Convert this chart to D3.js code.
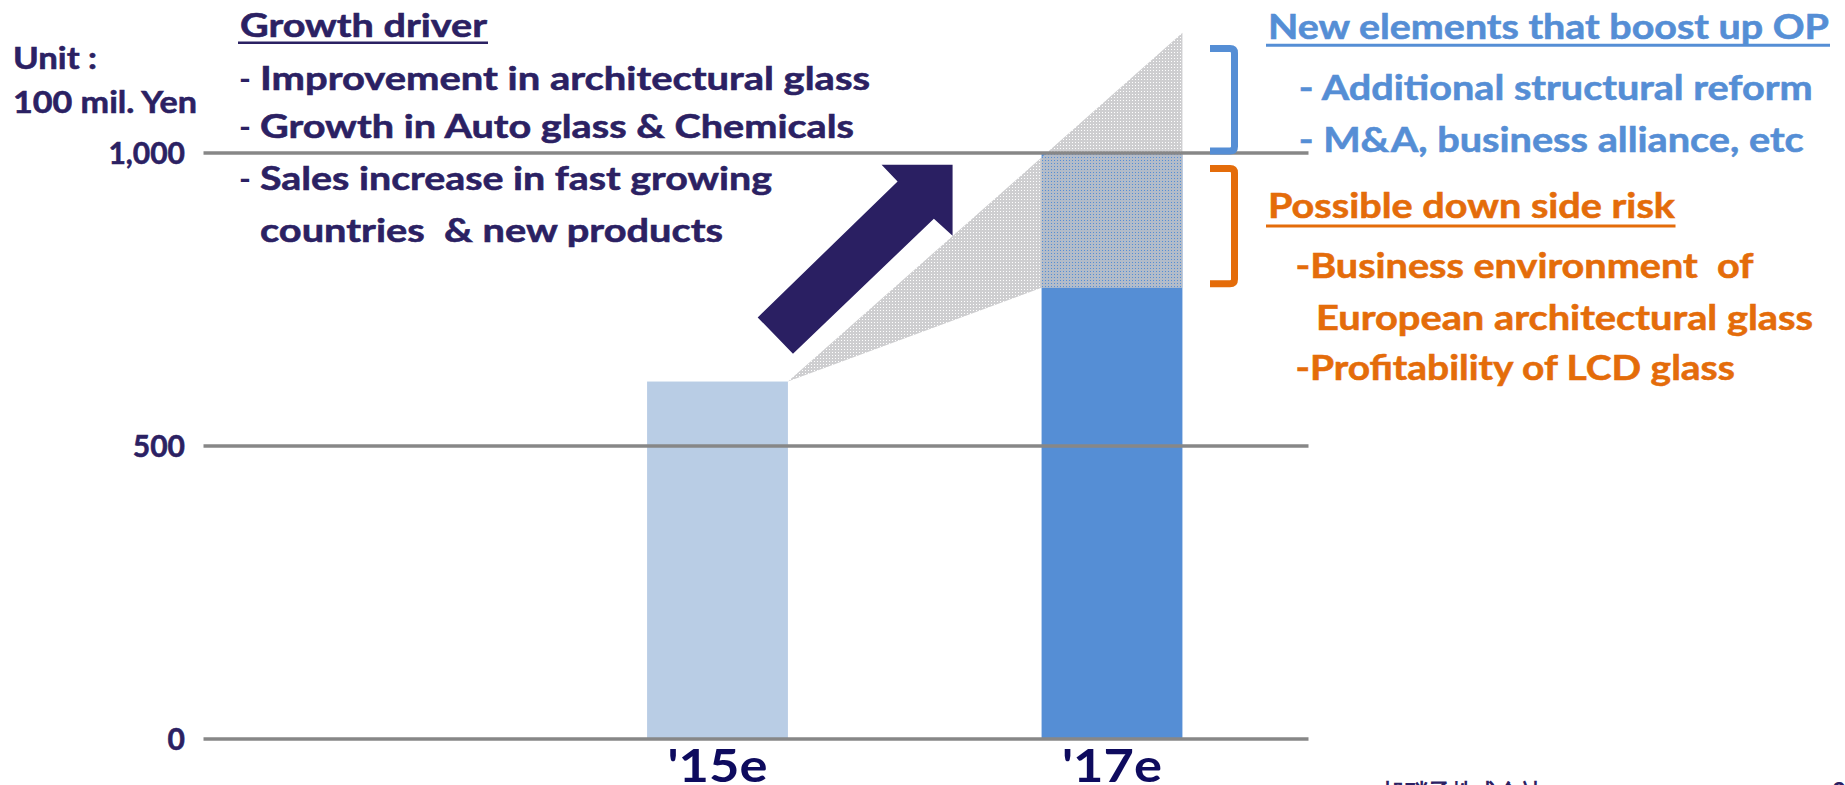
<!DOCTYPE html>
<html>
<head>
<meta charset="utf-8">
<script src="https://cdn.jsdelivr.net/npm/d3@7"></script>
<style>
  html, body { margin: 0; padding: 0; background: #ffffff; }
  svg { display: block; }
  text { font-family: Lato, "Open Sans", "Noto Sans", sans-serif; font-weight: 700; white-space: pre; }
  text.heavy { stroke-width: 0.55px; paint-order: stroke; }
</style>
</head>
<body>
<svg id="chart" width="1845" height="785"></svg>
<script>
// ---------------- DATA ----------------
const categories = ["'15e", "'17e"];
const barValues = [610, 770];          // solid bars (100 mil. Yen)
const upsideTop17 = 1000;              // top of patterned upper part of '17e
const upsideApex17 = 1205;             // apex of the "boost" wedge
const yTickValues = [0, 500, 1000];
const yTickLabels = ["0", "500", "1,000"];
const unitLabels = ["Unit :", "100 mil. Yen"];

const driverTitle = "Growth driver";
const driverLines = [
  {dash: true,  text: "Improvement in architectural glass"},
  {dash: true,  text: "Growth in Auto glass & Chemicals"},
  {dash: true,  text: "Sales increase in fast growing"},
  {dash: false, text: "countries  & new products"}
];
const boostTitle = "New elements that boost up OP";
const boostLines = ["- Additional structural reform", "- M&A, business alliance, etc"];
const riskTitle = "Possible down side risk";
const riskLines = ["-Business environment  of", "European architectural glass", "-Profitability of LCD glass"];
const footerText = "旭硝子株式会社";
const pageNumber = "2";

// ---------------- STYLE ----------------
const NAVY = "#2b2163";
const NAVY_DARK = "#0e0b5e";
const BLUE = "#558ed5";
const LIGHT_BLUE = "#b9cde5";
const ORANGE = "#e46c0a";
const GRID = "#878787";

const svg = d3.select("#chart");
svg.append("rect").attr("width", 1845).attr("height", 785).attr("fill", "#ffffff");

// scales
const y = d3.scaleLinear().domain([0, 1000]).range([739, 153]);
const x = d3.scaleBand().domain(categories).range([520.25, 1309.25])
  .paddingInner(0.643).paddingOuter(0.3215);
const gridX0 = 203.5, gridX1 = 1308.5;

// dotted pattern for the wedge (gray with small holes)
const defs = svg.append("defs");
const pat = defs.append("pattern").attr("id", "dots")
  .attr("width", 3).attr("height", 3).attr("patternUnits", "userSpaceOnUse");
pat.append("path")
  .attr("d", "M0,0H3V3H0Z M1,1V2H2V1Z")
  .attr("fill-rule", "evenodd")
  .attr("fill", "rgb(196,196,199)").attr("fill-opacity", 0.84);

// bars
const barColors = [LIGHT_BLUE, BLUE];
svg.append("g").selectAll("rect.bar").data(categories).join("rect")
  .attr("class", "bar")
  .attr("x", d => x(d))
  .attr("width", x.bandwidth())
  .attr("y", (d, i) => y(barValues[i]))
  .attr("height", (d, i) => y(0) - y(barValues[i]))
  .attr("fill", (d, i) => barColors[i]);

// '17e upper part (to 1000) underneath the pattern
svg.append("rect")
  .attr("x", x(categories[1])).attr("width", x.bandwidth())
  .attr("y", y(upsideTop17)).attr("height", y(barValues[1]) - y(upsideTop17))
  .attr("fill", BLUE);

// wedge polygon
const x15r = x(categories[0]) + x.bandwidth();
const x17l = x(categories[1]);
const x17r = x(categories[1]) + x.bandwidth();
const wedge = [
  [x15r, y(barValues[0])],
  [x17r, y(upsideApex17)],
  [x17r, y(barValues[1])],
  [x17l, y(barValues[1])]
];
svg.append("path").attr("d", d3.line()(wedge) + "Z").attr("fill", "url(#dots)");

// gridlines
svg.append("g").selectAll("line").data(yTickValues).join("line")
  .attr("x1", gridX0).attr("x2", gridX1)
  .attr("y1", d => y(d)).attr("y2", d => y(d))
  .attr("stroke", GRID).attr("stroke-width", 3.5);

// y tick labels
svg.append("g").selectAll("text").data(yTickValues).join("text")
  .attr("class", "heavy").attr("stroke", NAVY)
  .attr("x", 185).attr("y", d => y(d) + 10.5)
  .attr("text-anchor", "end")
  .attr("font-size", 30).attr("fill", NAVY)
  .text((d, i) => yTickLabels[i]);

// unit
svg.append("text").attr("class", "heavy").attr("stroke", NAVY)
  .attr("x", 13).attr("y", 69).attr("font-size", 29.5).attr("fill", NAVY)
  .attr("textLength", 84).attr("lengthAdjust", "spacingAndGlyphs").text(unitLabels[0]);
svg.append("text").attr("class", "heavy").attr("stroke", NAVY)
  .attr("x", 13).attr("y", 113).attr("font-size", 29.5).attr("fill", NAVY)
  .attr("textLength", 184).attr("lengthAdjust", "spacingAndGlyphs").text(unitLabels[1]);

// category labels
svg.append("g").selectAll("text").data(categories).join("text")
  .attr("x", d => x(d) + x.bandwidth() / 2)
  .attr("y", 781.5)
  .attr("text-anchor", "middle")
  .attr("font-family", "'DejaVu Sans', Verdana, sans-serif")
  .attr("font-size", 46).attr("fill", NAVY_DARK)
  .attr("textLength", 100).attr("lengthAdjust", "spacingAndGlyphs")
  .text(d => d);

// arrow (decoration) — tip anchored near '17e bar, around 980
const tip = [x17l - 89, y(980)];
const arrowOffsets = [[0, 0], [0, 71], [-18.7, 54], [-159.6, 189], [-194.9, 152.7], [-55, 16.7], [-71, 0]];
svg.append("path")
  .attr("d", d3.line()(arrowOffsets.map(o => [tip[0] + o[0], tip[1] + o[1]])) + "Z")
  .attr("fill", "#2a1f62");

// left notes
const leftFs = 32;
svg.append("text").attr("class", "heavy").attr("stroke", NAVY)
  .attr("x", 240).attr("y", 37.3).attr("font-size", leftFs).attr("fill", NAVY)
  .attr("textLength", 247).attr("lengthAdjust", "spacingAndGlyphs").text(driverTitle);
svg.append("line").attr("x1", 238).attr("x2", 488).attr("y1", 42.8).attr("y2", 42.8)
  .attr("stroke", NAVY).attr("stroke-width", 2.6);
const driverBase = [89.5, 138, 190, 241.7];
const driverWidths = [610, 594, 512, 463];
const dl = svg.append("g");
driverLines.forEach((l, i) => {
  if (l.dash) {
    dl.append("text").attr("x", 239).attr("y", driverBase[i]).attr("font-size", leftFs)
      .attr("font-weight", 400).attr("fill", NAVY).text("-");
  }
  dl.append("text").attr("class", "heavy").attr("stroke", NAVY)
    .attr("x", 260).attr("y", driverBase[i]).attr("font-size", leftFs)
    .attr("fill", NAVY).attr("textLength", driverWidths[i]).attr("lengthAdjust", "spacingAndGlyphs")
    .text(l.text);
});

// brackets
function bracket(yTop, yBot, color) {
  svg.append("path")
    .attr("d", `M1210,${yTop} H1230 Q1234.5,${yTop} 1234.5,${yTop + 4.5} V${yBot - 4.5} Q1234.5,${yBot} 1230,${yBot} H1210`)
    .attr("fill", "none").attr("stroke", color).attr("stroke-width", 7);
}
bracket(y(upsideTop17) - 104.5, y(upsideTop17) - 2, BLUE);
bracket(y(upsideTop17) + 15.5, y(barValues[1]) - 4, ORANGE);

// right notes
const rightFs = 33.5;
svg.append("text").attr("class", "heavy").attr("stroke", BLUE)
  .attr("x", 1268).attr("y", 39.3).attr("font-size", rightFs).attr("fill", BLUE)
  .attr("textLength", 561).attr("lengthAdjust", "spacingAndGlyphs").text(boostTitle);
svg.append("line").attr("x1", 1266).attr("x2", 1830).attr("y1", 45.3).attr("y2", 45.3)
  .attr("stroke", BLUE).attr("stroke-width", 3);
const boostBase = [100, 151.7];
const boostWidths = [514, 505];
boostLines.forEach((t, i) => {
  svg.append("text").attr("class", "heavy").attr("stroke", BLUE)
    .attr("x", 1298.7).attr("y", boostBase[i]).attr("font-size", rightFs)
    .attr("fill", BLUE)
    .attr("textLength", boostWidths[i]).attr("lengthAdjust", "spacingAndGlyphs").text(t);
});
svg.append("text").attr("class", "heavy").attr("stroke", ORANGE)
  .attr("x", 1268).attr("y", 218.3).attr("font-size", rightFs).attr("fill", ORANGE)
  .attr("textLength", 407).attr("lengthAdjust", "spacingAndGlyphs").text(riskTitle);
svg.append("line").attr("x1", 1266).attr("x2", 1675.5).attr("y1", 226).attr("y2", 226)
  .attr("stroke", ORANGE).attr("stroke-width", 3);
const riskBase = [278.3, 330, 380];
const riskX = [1295.4, 1316, 1295.4];
const riskWidths = [458, 497, 439.4];
riskLines.forEach((t, i) => {
  svg.append("text").attr("class", "heavy").attr("stroke", ORANGE)
    .attr("x", riskX[i]).attr("y", riskBase[i]).attr("font-size", rightFs)
    .attr("fill", ORANGE)
    .attr("textLength", riskWidths[i]).attr("lengthAdjust", "spacingAndGlyphs").text(t);
});

// footer (cut off at page bottom, as in the reference)
svg.append("text").attr("x", 1382).attr("y", 800)
  .attr("font-family", "'Noto Sans CJK JP', sans-serif").attr("font-weight", 400)
  .attr("font-size", 22.5).attr("fill", NAVY).text(footerText);
svg.append("text").attr("x", 1832).attr("y", 800)
  .attr("font-weight", 400).attr("font-size", 24).attr("fill", NAVY).text(pageNumber);
</script>
</body>
</html>
